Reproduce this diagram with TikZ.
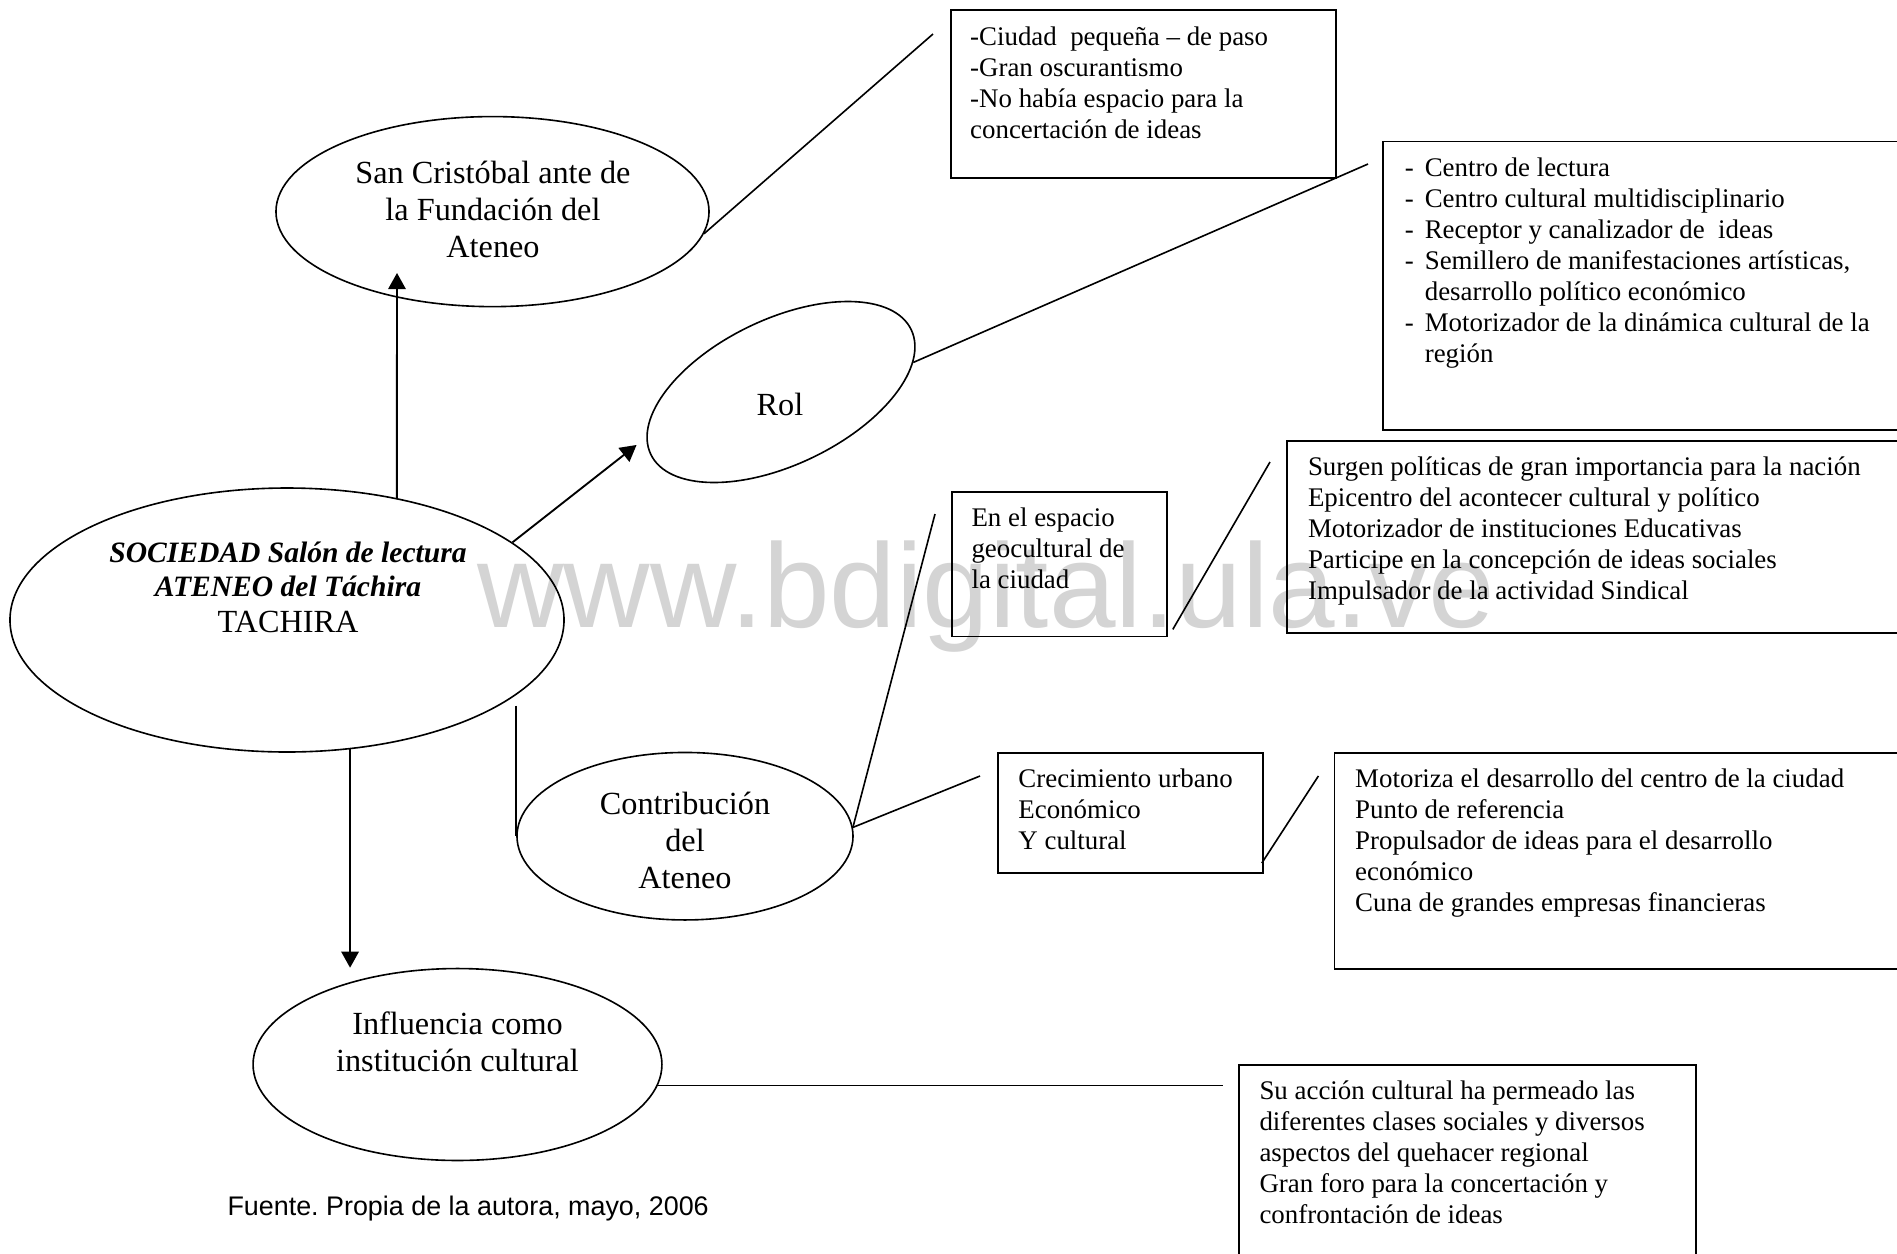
\documentclass[tikz,border=0pt]{standalone}
\usepackage{fontspec}
\setmainfont{Liberation Serif}
\newfontfamily\arialf{Liberation Sans}
\usetikzlibrary{shapes.geometric,arrows.meta,calc}
\newcommand\bdash{\hbox to 7.4pt{-\hfil}}
\newcommand\socfont{\fontsize{11}{12.65}\selectfont\bfseries\itshape}
\frenchspacing
\begin{document}
\begin{tikzpicture}[x=0.372pt,y=-0.372pt,
  ell/.style={draw, ellipse, inner sep=0pt, line width=0.6pt},
  bx/.style={draw, rectangle, inner sep=0pt, anchor=north west, line width=0.65pt},
  etxt/.style={inner sep=0pt, align=center, anchor=base, font=\fontsize{12}{13.8}\selectfont},
  btxt/.style={inner sep=0pt, align=left, anchor=base west, font=\fontsize{10}{11.5}\selectfont},
  ln/.style={line width=0.6pt},
  arr/.style={line width=0.7pt, -{Triangle[length=6pt,width=6.5pt]}}]
\useasboundingbox (0,0) rectangle (1897,1253);
\fill[white] (0,0) rectangle (1897,1253);
\clip (0,0) rectangle (1897,1253);

% watermark
\node[anchor=base west, inner sep=0pt, text=black!17, font=\arialf\fontsize{44.5}{50}\selectfont] (wm) at (477,627) {www.bdigital.ula.ve};

% ellipses
\node[ell, minimum width=161.1pt, minimum height=70.7pt] (sc) at (492.5,211.6) {};
\node[ell, rotate=25.6, minimum width=107.4pt, minimum height=54.1pt] (rol) at (781,392) {};
\node[ell, minimum width=206.1pt, minimum height=98.2pt] (soc) at (287,620) {};
\node[ell, minimum width=125pt, minimum height=62.3pt] (contrib) at (685,836.2) {};
\node[ell, minimum width=152.1pt, minimum height=71.4pt] (infl) at (457.5,1064.5) {};

% ellipse texts (anchor = baseline of last line)
\node[etxt] (sct) at (493,257.7) {San Cristóbal ante de\\la Fundación del\\Ateneo};
\node[etxt] (rolt) at (780,415) {Rol};
\node[etxt] (soct) at (288,632) {\socfont SOCIEDAD Salón de lectura\\[-1.2pt]\socfont ATENEO del Táchira\\[-0.6pt]TACHIRA};
\node[etxt] (contribt) at (685,888.4) {Contribución\\del\\Ateneo};
\node[etxt] (inflt) at (457.5,1071.6) {Influencia como\\institución cultural};

% boxes
\node[bx, minimum width=143.2pt, minimum height=62.5pt] (b1) at (950,9) {};
\node[bx, minimum width=196.4pt, minimum height=107.2pt] (b2) at (1382,140.6) {};
\node[bx, minimum width=232.1pt, minimum height=71.4pt] (b3) at (1286,440) {};
\node[bx, minimum width=80pt, minimum height=53.8pt] (esp) at (951,491) {};
\node[bx, minimum width=98.6pt, minimum height=44.6pt] (crec) at (997,752.4) {};
\node[bx, minimum width=214.5pt, minimum height=80.2pt] (mot) at (1333.5,752.4) {};
\node[bx, minimum width=170.1pt, minimum height=76.6pt] (suac) at (1237.8,1064.2) {};

% box texts (anchor = baseline of last line)
\node[btxt] (b1t) at (969.7,138) {-Ciudad\ \ pequeña – de paso\\-Gran oscurantismo\\-No había espacio para la\\concertación de ideas};
\node[btxt] (b2t) at (1404.4,362) {\bdash Centro de lectura\\\bdash Centro cultural multidisciplinario\\\bdash Receptor y canalizador de\ \ ideas\\\bdash Semillero de manifestaciones artísticas,\\\hspace*{7.4pt}desarrollo político económico\\\bdash Motorizador de la dinámica cultural de la\\\hspace*{7.4pt}región};
\node[btxt] (b3t) at (1307.5,599.5) {Surgen políticas de gran importancia para la nación\\Epicentro del acontecer cultural y político\\Motorizador de instituciones Educativas\\Participe en la concepción de ideas sociales\\Impulsador de la actividad Sindical};
\node[btxt] (espt) at (971,588.6) {En el espacio\\geocultural de\\la ciudad};
\node[btxt] (crect) at (1017.9,849.3) {Crecimiento urbano\\Económico\\Y cultural};
\node[btxt] (mott) at (1354.7,911.1) {Motoriza el desarrollo del centro de la ciudad\\Punto de referencia\\Propulsador de ideas para el desarrollo\\económico\\Cuna de grandes empresas financieras};
\node[btxt] (suact) at (1259,1223) {Su acción cultural ha permeado las\\diferentes clases sociales y diversos\\aspectos del quehacer regional\\Gran foro para la concertación y\\confrontación de ideas};

% footer
\node[anchor=base west, inner sep=0pt, font=\arialf\fontsize{10}{12}\selectfont] (src) at (227,1215) {Fuente. Propia de la autora, mayo, 2006};

% free ends
\coordinate (c1) at (933,34);
\coordinate (c2) at (1368,164);
\coordinate (c3) at (935,514);
\coordinate (c4) at (980,776);
\coordinate (c5) at (1270,462);
\coordinate (c6) at (1318.4,776);
\coordinate (sctip) at (397,273);

% arrows
\draw[arr] (soc.48.5) -- (sctip);
\draw[arr, shorten >=4.6pt] (soc.19) -- (rol.173);
\draw[arr] (soc.-64) -- (soc.-64 |- infl.north);

% plain connectors
\draw[ln] (contrib.west |- soc.-22) -- (contrib.west);
\draw[ln] (sc.-6) -- (c1);
\draw[ln] (rol.-13) -- (c2);
\draw[ln] (contrib.3) -- (c3);
\draw[ln] (contrib.3) -- (c4);
\draw[ln] ($(esp.south east)+(5,-8)$) -- (c5);
\draw[ln] ($(crec.south east)+(-2,-11)$) -- (c6);
\draw[ln, shorten >=5.6pt] (infl.-6.7) -- (infl.-6.7 -| suac.west);
\end{tikzpicture}
\end{document}
